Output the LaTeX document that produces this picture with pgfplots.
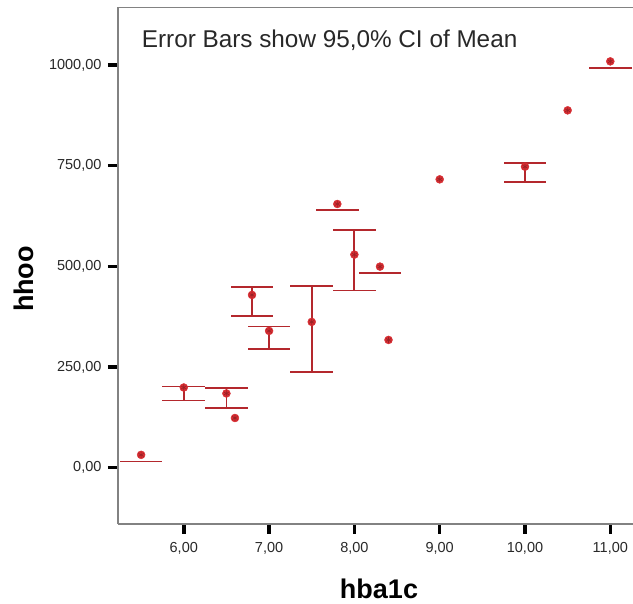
\documentclass[border=0pt]{standalone}
\usepackage{pgfplots}
\usepackage{pgfplotstable}
\pgfplotsset{compat=1.18}
\usepackage{fontspec}
\setmainfont{Liberation Sans}
\definecolor{barred}{RGB}{180,40,45}
\definecolor{markred}{RGB}{215,45,50}
\definecolor{axgray}{RGB}{130,130,130}
\definecolor{txt}{RGB}{40,40,40}

% group means (markers)
\pgfplotstableread{
x     y
5.5   31.4
6.0   198.8
6.5   184.0
6.6   123.0
6.8   428.8
7.0   339.4
7.5   361.8
7.8   654.8
8.0   529.0
8.3   499.2
8.4   317.0
9.0   716.0
10.0  747.5
10.5  887.5
11.0  1009.2
}\means

% error bar caps (horizontal lines)
\pgfplotstableread{
x     y      e
5.5   14.9   0.25
6.0   201.3  0.25
6.0   166.7  0.25
6.5   197.2  0.25
6.5   148.5  0.25
6.8   448.7  0.25
6.8   376.7  0.25
7.0   350.2  0.25
7.0   295.4  0.25
7.5   452.0  0.25
7.5   236.8  0.25
7.8   639.9  0.25
8.0   591.0  0.25
8.0   439.6  0.25
8.3   484.3  0.25
10.0  755.8  0.25
10.0  710.3  0.25
11.0  993.3  0.25
}\caps

% error bar stems: lower end and length
\pgfplotstableread{
x     lo     len
6.0   166.7  34.6
6.5   148.5  48.7
6.8   376.7  72.0
7.0   295.4  54.8
7.5   236.8  215.2
8.0   439.6  151.4
10.0  710.3  45.5
}\stems

\begin{document}
\begin{tikzpicture}
\path[use as bounding box] (-118pt,-80pt) rectangle (515pt,524pt);
\begin{axis}[
  at={(0pt,0pt)}, anchor=south west,
  scale only axis, width=515pt, height=516.5pt,
  xmin=5.229, xmax=11.266, ymin=-140.4, ymax=1143.1,
  axis lines=left,
  axis line style={-, draw=axgray, line width=1.3pt},
  xtick={6,7,8,9,10,11},
  xticklabels={{6,00},{7,00},{8,00},{9,00},{10,00},{11,00}},
  ytick={0,250,500,750,1000},
  yticklabels={{0,00},{250,00},{500,00},{750,00},{1000,00}},
  tick align=outside, major tick length=10pt,
  major tick style={black, line width=3.5pt},
  tick label style={font=\fontsize{14.5}{17}\selectfont, text=txt},
  xticklabel style={yshift=-5pt},
  yticklabel style={xshift=-3pt},
  xlabel={hba1c},
  xlabel style={at={(axis description cs:0.5068,-0.1255)}, anchor=center,
    font=\bfseries\fontsize{27}{32}\selectfont, text=black},
  ylabel={hhoo},
  ylabel style={at={(axis description cs:-0.1825,0.4743)}, anchor=center,
    font=\bfseries\fontsize{27}{32}\selectfont, text=black},
]
\draw[axgray, line width=1.3pt] (rel axis cs:0,1) -- (rel axis cs:1,1);
\node[anchor=base west, inner sep=0pt, font=\fontsize{24.3}{29}\selectfont, text=txt]
  at (axis description cs:0.046,0.923) {Error Bars show 95,0\% CI of Mean};

% stems
\addplot[draw=none, mark=none, forget plot,
  error bars/.cd, y dir=plus, y explicit, error mark=none,
  error bar style={draw=barred, line width=1.8pt}]
  table[x=x, y=lo, y error=len] {\stems};
% caps
\addplot[draw=none, mark=none, forget plot,
  error bars/.cd, x dir=both, x explicit, error mark=none,
  error bar style={draw=barred, line width=1.8pt}]
  table[x=x, y=y, x error=e] {\caps};
% means
\addplot[only marks, mark=*, mark size=4pt,
  mark options={fill=markred, draw=markred}]
  table[x=x, y=y] {\means};
\addplot[only marks, mark=asterisk, mark size=3pt,
  mark options={draw=barred!85!black, line width=0.6pt}]
  table[x=x, y=y] {\means};
\end{axis}
\end{tikzpicture}
\end{document}
